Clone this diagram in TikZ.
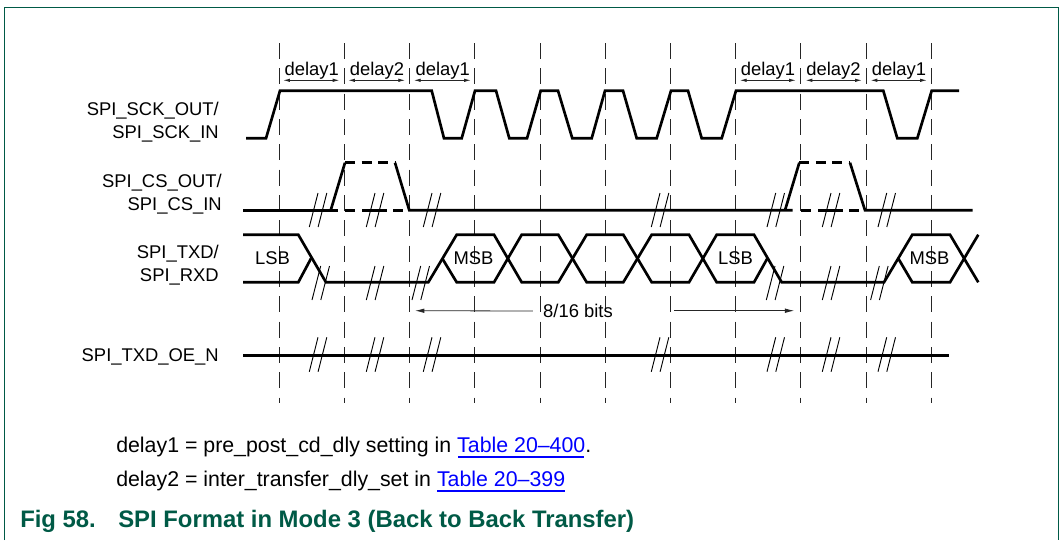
\documentclass[tikz,border=0pt]{standalone}
\usepackage{fontspec}
\setmainfont{Liberation Sans}
\usetikzlibrary{arrows.meta}
\definecolor{nxpgreen}{HTML}{005A46}
\definecolor{linkblue}{HTML}{0000FF}
\tikzset{
  x=0.75pt,y=-0.75pt,
  wave/.style={line width=2pt,black,line join=miter,line cap=butt},
  wavehigh/.style={wave,dash pattern=on 7.5pt off 4.9pt},
  wavelow/.style={wave,dash pattern=on 7.5pt off 5.25pt on 18.75pt off 4.5pt on 7.5pt off 20pt},
  guide/.style={line width=0.6pt,black!85,dash pattern=on 12pt off 7pt},
  brk/.style={line width=0.7pt,black},
  span/.style={line width=0.6pt,black!85,{Latex[length=5pt,width=2.6pt]}-{Latex[length=5pt,width=2.6pt]}},
  single/.style={line width=0.6pt,black!85,-{Latex[length=7pt,width=3.4pt]}},
  lbl/.style={font=\fontsize{13.8pt}{17.25pt}\selectfont,inner sep=0pt,align=right,anchor=east},
  ctr/.style={font=\fontsize{13.8pt}{16.5pt}\selectfont,inner sep=0pt,anchor=center},
  note/.style={font=\fontsize{16pt}{19pt}\selectfont,inner sep=0pt,anchor=base west},
  capt/.style={font=\fontsize{17.9pt}{20pt}\selectfont\bfseries,text=nxpgreen,inner sep=0pt,anchor=base west},
}
\newcommand{\lnk}[1]{\textcolor{linkblue}{#1}}
\begin{document}
\begin{tikzpicture}
\useasboundingbox (0,0) rectangle (1059,540);
\fill[white] (0,0) rectangle (1059,540);
% frame
\draw[nxpgreen,line width=1pt] (4.3,540) -- (4.3,7.5) -- (1058.3,7.5) -- (1058.3,540);
% time guides
\foreach \x in {279,344.5,409.7,474.8,540,605,670.3,735.7,800.8,866,931}
  \draw[guide] (\x,43) -- (\x,403);
% SCK
\draw[wave] (246,138.3) -- (266,138.3) -- (280,90.7) -- (431.7,90.7) -- (444,138.3) -- (461.7,138.3)
 -- (475,90.7) -- (496,90.7) -- (509.3,138.3) -- (527,138.3) -- (540.7,90.7) -- (558,90.7)
 -- (572.3,138.3) -- (591.7,138.3) -- (605,90.7) -- (623,90.7) -- (636.7,138.3) -- (656.7,138.3)
 -- (671,90.7) -- (688,90.7) -- (701.7,138.3) -- (721.7,138.3) -- (736,90.7) -- (883.3,90.7)
 -- (897.3,138.3) -- (917.3,138.3) -- (931.7,90.7) -- (959,90.7);
% CS
\draw[wave] (243,210.3) -- (337.7,210.3);
\draw[wave] (330.7,210.3) -- (345,162.7);
\draw[wavehigh] (345,162.7) -- (395,162.7);
\draw[wave] (395,162.7) -- (409.3,210.3) -- (792.7,210.3);
\draw[wavelow] (345,210.3) -- (403,210.3);
\draw[wave] (785,210.3) -- (799.3,162.7);
\draw[wavehigh] (799.3,162.7) -- (850,162.7);
\draw[wave] (850,162.7) -- (865,210.3) -- (972.7,210.3);
\draw[wavelow] (801,210.3) -- (859,210.3);
% TXD
\draw[wave] (243,234.7) -- (298.3,234.7) -- (326,282.3) -- (428.3,282.3) -- (456.7,234.7) -- (494,234.7)
 -- (521.7,282.3) -- (558.3,282.3) -- (586.7,234.7) -- (623.3,234.7) -- (651.7,282.3) -- (689,282.3)
 -- (716.7,234.7) -- (754,234.7) -- (781.7,282.3) -- (884,282.3) -- (912.3,234.7) -- (950,234.7) -- (978.3,282.3);
\draw[wave] (243,282.3) -- (298.3,282.3) -- (311,258.5);
\draw[wave] (442.3,258.5) -- (456.7,282.3) -- (494,282.3) -- (521.7,234.7) -- (558.3,234.7) -- (586.7,282.3)
 -- (623.3,282.3) -- (651.7,234.7) -- (689,234.7) -- (716.7,282.3) -- (754,282.3) -- (767.3,258.5);
\draw[wave] (898.3,258.5) -- (912.3,282.3) -- (950,282.3) -- (978.3,234.7);
% OE
\draw[wave] (243,355.3) -- (949.3,355.3);
% break marks
\foreach \tx in {318,375,432,660,775.7,831,886.7}{
  \draw[brk] (\tx,193) -- (\tx-8.7,227);
  \draw[brk] (\tx+8.8,193) -- (\tx+0.1,227);
  \draw[brk] (\tx,337.3) -- (\tx-8.7,371.7);
  \draw[brk] (\tx+8.8,337.3) -- (\tx+0.1,371.7);
}
\foreach \tx in {320.7,375,420.7,775,831,879.3}{
  \draw[brk] (\tx,266) -- (\tx-8.7,300);
  \draw[brk] (\tx+8.8,266) -- (\tx+0.1,300);
}
% delay spans
\coordinate (d1a) at (283.3,80.3); \coordinate (d1b) at (339.3,80.3);
\coordinate (d2a) at (348.3,80.3); \coordinate (d2b) at (405,80.3);
\coordinate (d3a) at (414,80.3);   \coordinate (d3b) at (470.7,80.3);
\coordinate (d4a) at (740,80.3);   \coordinate (d4b) at (795.7,80.3);
\coordinate (d5a) at (805.7,80.3); \coordinate (d5b) at (861.7,80.3);
\coordinate (d6a) at (870.7,80.3); \coordinate (d6b) at (926.7,80.3);
\draw[span] (d1a) -- (d1b);
\draw[span] (d2a) -- (d2b);
\draw[span] (d3a) -- (d3b);
\draw[span] (d4a) -- (d4b);
\draw[span] (d5a) -- (d5b);
\draw[span] (d6a) -- (d6b);
\node[ctr] (t1) at (311.7,70.5) {delay1};
\node[ctr] (t2) at (377,70.5) {delay2};
\node[ctr] (t3) at (442.7,70.5) {delay1};
\node[ctr] (t4) at (768,70.5) {delay1};
\node[ctr] (t5) at (833.5,70.5) {delay2};
\node[ctr] (t6) at (899,70.5) {delay1};
% bits
\node[ctr] (bits) at (578,311) {8/16 bits};
\coordinate (bl) at (415,310.7);
\coordinate (br) at (794.3,310.7);
\coordinate (bm) at (674.3,310.7);
\draw[single] ([xshift=-7.5pt]bits.west) -- (bl);
\draw[single] (bm) -- (br);
% data labels
\node[ctr] (lsb1) at (272.5,258) {LSB};
\node[ctr] (msb1) at (473.5,258) {MSB};
\node[ctr] (lsb2) at (735.5,258) {LSB};
\node[ctr] (msb2) at (929.5,258) {MSB};
% signal names
\node[lbl] (sck) at (219,122.5) {SPI\_SCK\_OUT/\\SPI\_SCK\_IN};
\node[lbl] (cs) at (222,194) {SPI\_CS\_OUT/\\SPI\_CS\_IN};
\node[lbl] (txd) at (219,265.5) {SPI\_TXD/\\SPI\_RXD};
\node[lbl] (oe) at (219,357) {SPI\_TXD\_OE\_N};
% notes
\node[note] (n1) at (116,452) {delay1 = pre\_post\_cd\_dly setting in \lnk{Table 20–400}.};
\node[note] (n2) at (116,486) {delay2 = inter\_transfer\_dly\_set in \lnk{Table 20–399}};
\draw[linkblue,line width=1.5pt] (458,457) -- (583.5,457);
\draw[linkblue,line width=1.5pt] (437,491) -- (565,491);
\node[capt] (cap1) at (20,527) {Fig 58.};
\node[capt] (cap2) at (118,527) {SPI Format in Mode 3 (Back to Back Transfer)};
\end{tikzpicture}
\end{document}
